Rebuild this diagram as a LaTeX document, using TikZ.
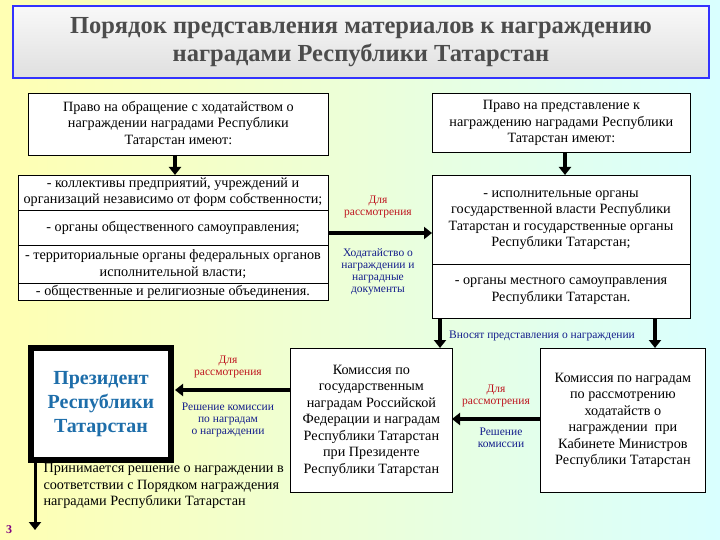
\documentclass[tikz,border=0pt]{standalone}
\usepackage{fontspec}
\setmainfont{Liberation Serif}
\usetikzlibrary{arrows.meta,shadows}
\definecolor{rd}{RGB}{190,20,30}
\definecolor{bl}{RGB}{20,30,140}
\definecolor{pres}{RGB}{30,110,170}
\tikzset{
 box/.style={draw=black,fill=white,line width=0.8pt,align=center,inner sep=2pt},
 arr/.style={line width=4pt,-{Triangle[length=8pt,width=12pt]}},
 red lbl/.style={text=rd,font=\fontsize{11.5}{12}\selectfont,align=center},
 blue lbl/.style={text=bl,font=\fontsize{11.5}{12}\selectfont,align=center},
 txt/.style={font=\fontsize{14.2}{16.5}\selectfont}
}
\begin{document}
\begin{tikzpicture}[x=1pt,y=-1pt]
\shade[top color=yellow!25,bottom color=cyan!12,left color=yellow!30,right color=cyan!15] (0,0) rectangle (720,540);
\useasboundingbox (0,0) rectangle (720,540);
% title
\node[draw=blue!80,line width=2pt,top color=gray!5,bottom color=gray!25,minimum width=696,minimum height=72,anchor=north west,align=center,
 font=\bfseries\fontsize{24.5}{28}\selectfont,text=gray!60!black] (title) at (12,5) {Порядок представления материалов к награждению\\наградами Республики Татарстан};
% top boxes
\node[box,txt,minimum width=300,minimum height=62,anchor=north west] (A) at (28,93) {Право на обращение с ходатайством о\\награждении наградами Республики\\Татарстан имеют:};
\node[box,txt,minimum width=258,minimum height=59,anchor=north west] (B) at (432,93) {Право на представление к\\награждению наградами Республики\\Татарстан имеют:};
% C box
\node[box,minimum width=310,minimum height=125,anchor=north west] (C) at (18,175) {};
\draw[line width=0.8pt] (18,210) -- (328,210) (18,245) -- (328,245) (18,283) -- (328,283);
\node[txt,align=center] (c1) at (173,192) {- коллективы предприятий, учреждений и\\организаций независимо от форм собственности;};
\node[txt] (c2) at (173,228) {- органы общественного самоуправления;};
\node[txt,align=center] (c3) at (173,264) {- территориальные органы федеральных органов\\исполнительной власти;};
\node[txt] (c4) at (173,292) {- общественные и религиозные объединения.};
% D box
\node[box,minimum width=258,minimum height=143,anchor=north west] (D) at (432,175) {};
\draw[line width=0.8pt] (432,264) -- (690,264);
\node[txt,align=center] (d1) at (561,220) {- исполнительные органы\\государственной власти Республики\\Татарстан и государственные органы\\Республики Татарстан;};
\node[txt,align=center] (d2) at (561,291) {- органы местного самоуправления\\Республики Татарстан.};
% arrows top
\draw[arr] (175,155) -- (175,175);
\draw[arr] (565,152) -- (565,175);
\coordinate (cd1) at (328,233); \coordinate (cd2) at (432,233);
\draw[arr] (cd1) -- (cd2);
\node[red lbl] (l1) at (378,207) {Для\\рассмотрения};
\node[blue lbl] (l2) at (378,272) {Ходатайство о\\награждении и\\наградные\\документы};
% bottom boxes
\node[draw=black,fill=white,line width=6pt,minimum width=140,minimum height=112,anchor=north west,align=center,
 font=\bfseries\fontsize{20}{24}\selectfont,text=pres] (P) at (28,345) {Президент\\Республики\\Татарстан};
\node[box,txt,minimum width=162,minimum height=144,anchor=north west] (K) at (290,348) {Комиссия по\\государственным\\наградам Российской\\Федерации и наградам\\Республики Татарстан\\при Президенте\\Республики Татарстан};
\node[box,txt,minimum width=165,minimum height=144,anchor=north west] (M) at (540,348) {Комиссия по наградам\\по рассмотрению\\ходатайств о\\награждении\ \ при\\Кабинете Министров\\Республики Татарстан};
\draw[arr] (440,318) -- (440,348);
\draw[arr] (655,318) -- (655,348);
\node[blue lbl] (l3) at (542,336) {Вносят представления о награждении};
\coordinate (kp1) at (290,390); \coordinate (kp2) at (175,390);
\draw[arr] (kp1) -- (kp2);
\node[red lbl] (l4) at (228,367) {Для\\рассмотрения};
\node[blue lbl] (l5) at (228,420) {Решение комиссии\\по наградам\\о награждении};
\coordinate (mk1) at (540,419); \coordinate (mk2) at (452,419);
\draw[arr] (mk1) -- (mk2);
\node[red lbl] (l6) at (496,396) {Для\\рассмотрения};
\node[blue lbl] (l7) at (501,438) {Решение\\комиссии};
\coordinate (pd) at (35,530);
\draw[arr,line width=3pt] (35,460) -- (pd);
\node[txt,align=left,anchor=north west] (l8) at (40,460) {Принимается решение о награждении в\\соответствии с Порядком награждения\\наградами Республики Татарстан};
\node[text=violet,font=\bfseries\fontsize{12}{14}\selectfont] (n3) at (9,530) {3};
\end{tikzpicture}
\end{document}
